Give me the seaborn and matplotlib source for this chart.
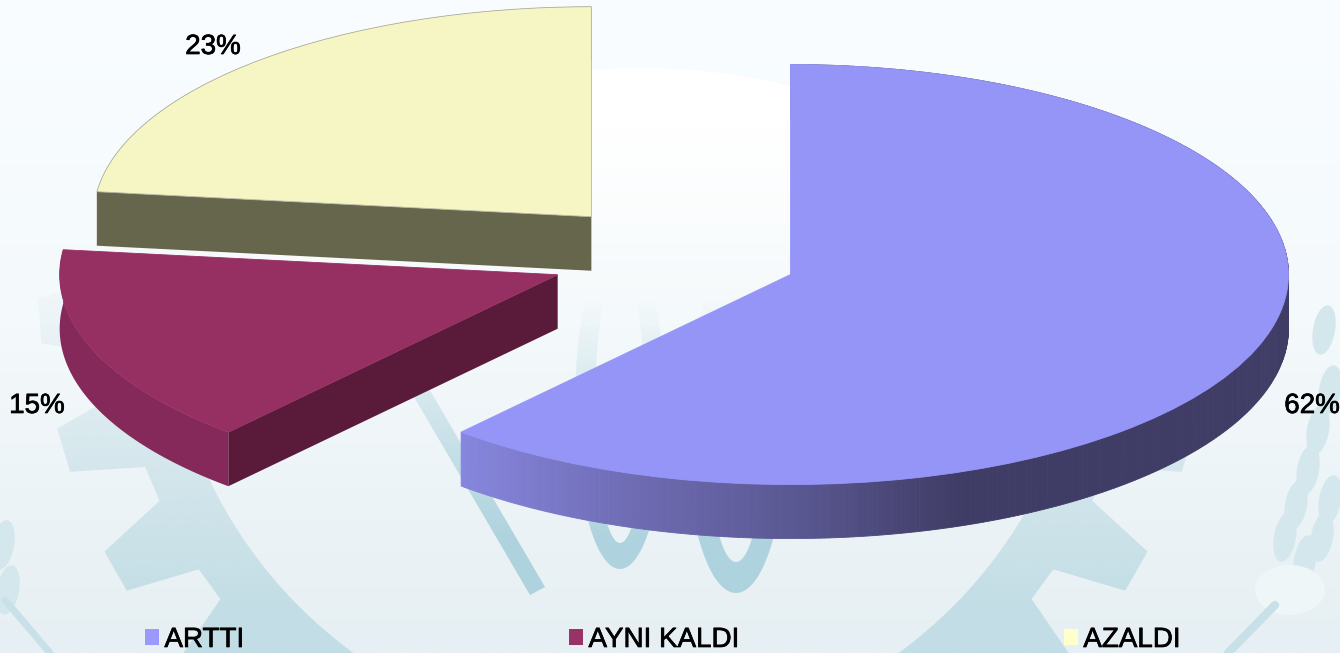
import numpy as np
import seaborn as sns
import matplotlib.pyplot as plt
import matplotlib.patheffects as pe
from matplotlib.patches import Ellipse, Patch, PathPatch
from matplotlib.path import Path

# valores do grafico
categorias = ["ARTTI", "AYNI KALDI", "AZALDI"]
valores = [61.5, 15.4, 23.1]

cores_topo = ["#9595f8", "#962f62", "#f6f6c4"]
cores_legenda = ["#9999ff", "#993366", "#ffffcc"]
cores_arco = [None, "#85295a", "#66664c"]
cores_raio = [None, "#5a1b3a", "#66664c"]

sns.set_theme(style="white")
plt.rcParams["font.family"] = ["Liberation Sans", "DejaVu Sans"]

L, A = 1340, 653
fig = plt.figure(figsize=(L / 100, A / 100), dpi=100)

# fundo em coordenadas de pixel
fundo = fig.add_axes([0, 0, 1, 1])
fundo.set_xlim(0, L)
fundo.set_ylim(A, 0)
fundo.axis("off")

grad = np.array(sns.blend_palette(["#f9fdff", "#f4f9fb", "#e6eff3"], 256))[:, None, :]
fundo.imshow(grad, extent=(0, L, A, 0), aspect="auto", zorder=0)


def preenche(path, cor, y0, y1, z=1):
    # preenchimento que some para cima, como a marca d'agua
    ys = np.linspace(0, A, 256)
    img = np.ones((256, 1, 4))
    img[:, :, :3] = sns.color_palette([cor])[0]
    img[:, 0, 3] = np.clip((ys - y0) / (y1 - y0), 0, 1)
    im = fundo.imshow(img, extent=(0, L, A, 0), aspect="auto", zorder=z)
    im.set_clip_path(PathPatch(path, transform=fundo.transData))


def elipse(cx, cy, rx, ry, n=120):
    t = np.linspace(0, 2 * np.pi, n)
    return np.c_[cx + rx * np.cos(t), cy + ry * np.sin(t)]


# engrenagem da marca d'agua
cx, cy = 626, 280
r_in, r_raiz, r_dente = 462, 516, 588
meia = []
ang = 29.7 - 12.86 * 5
while ang < 100:
    for da, r in [(-2.2, r_dente), (2.2, r_dente), (4.4, r_raiz), (8.5, r_raiz)]:
        meia.append((ang + da, r))
    ang += 12.86
meia = np.array(meia)
dir_x = cx + meia[:, 1] * np.cos(np.radians(meia[:, 0]))
dir_y = cy + meia[:, 1] * np.sin(np.radians(meia[:, 0]))
contorno = np.r_[np.c_[dir_x, dir_y], np.c_[2 * cx - dir_x, dir_y][::-1]]
engrenagem = Path.make_compound_path(
    Path(contorno, closed=True),
    Path(elipse(cx, cy, r_in, r_in, 240)[::-1], closed=True),
)
preenche(engrenagem, "#c2dde5", 260, 620)

# brilho branco no centro
ys = np.linspace(0, A, 256)
img = np.ones((256, 1, 4))
img[:, 0, 3] = np.clip((320 - ys) / 190, 0, 1)
im = fundo.imshow(img, extent=(0, L, A, 0), aspect="auto", zorder=1.5)
im.set_clip_path(PathPatch(Path(elipse(640, 420, 480, 352, 200), closed=True), transform=fundo.transData))

# numero 100 atras da pizza
traco = np.array([(362, 308), (377, 300), (545, 587), (530, 595), (362, 308)])
digitos = Path.make_compound_path(
    Path(traco, closed=True),
    Path(elipse(620, 405, 45, 164), closed=True),
    Path(elipse(620, 405, 25, 138)[::-1], closed=True),
    Path(elipse(736, 430, 50, 163), closed=True),
    Path(elipse(736, 430, 28, 132)[::-1], closed=True),
)
preenche(digitos, "#aed3de", 300, 540, z=2)

# espigas nos cantos
graos = [(1324, 330), (1330, 390), (1318, 430), (1308, 470), (1296, 505), (1285, 537),
         (1330, 500), (1322, 537), (1305, 560), (3, 545), (8, 590)]
for gx, gy in graos:
    fundo.add_patch(Ellipse((gx, gy), 22, 50, angle=10, color="#d3e7ed", zorder=3, lw=0))
fundo.add_patch(Ellipse((1290, 590), 70, 50, color="#eef6f8", zorder=3, lw=0))
fundo.plot([1275, 1228], [605, 653], color="#c8e1e8", lw=6, zorder=3)
fundo.plot([5, 50], [600, 653], color="#c8e1e8", lw=5, zorder=3)

# pizza
ax = fig.add_axes([0, 0, 1, 1])
ax.patch.set_alpha(0)
paleta = sns.color_palette(cores_topo)
fatias, _ = ax.pie(valores, explode=[0.25, 0.25, 0.25], colors=paleta, startangle=90,
                   counterclock=False, radius=1)
RX, RY = 498, 210
CX, CY = 674, 256
ax.set_aspect("auto")
ax.set_xlim(-CX / RX, (L - CX) / RX)
ax.set_ylim((CY - A) / RY, CY / RY)
ax.axis("off")

prof = 54 / RY
# gradiente da parede da fatia maior
tons = sns.blend_palette(["#8686de", "#6f6cb4", "#5a5892", "#3f3c66", "#3f3c66", "#3f3c66"], 400)

for i, f in enumerate(fatias):
    z = 2 + 2 * (len(fatias) - 1 - i) if i else 10
    f.set_zorder(z + 1)
    f.set_edgecolor("#b4b4a4" if i == 2 else cores_topo[i])
    f.set_linewidth(0.6)
    x0, y0 = f.center
    ts = np.radians(np.linspace(f.theta1, f.theta2, 401))
    if cores_arco[i] is None:
        for a, b in zip(ts[:-1], ts[1:]):
            xa, xb = x0 + np.cos(a), x0 + np.cos(b)
            ya, yb = y0 + np.sin(a), y0 + np.sin(b)
            px = ((xa + CX / RX) * RX - 460) / (1288 - 460)
            c = tons[int(np.clip(px, 0, 1) * 399)]
            ax.fill([xa, xb, xb, xa], [ya, yb, yb - prof, ya - prof], color=c, lw=0.6, zorder=z)
    else:
        xs = x0 + np.cos(ts)
        ys_a = y0 + np.sin(ts)
        ax.fill(np.r_[xs, xs[::-1]], np.r_[ys_a, ys_a[::-1] - prof], color=cores_arco[i], lw=0, zorder=z)
        t2 = np.radians(f.theta2)
        xr, yr = x0 + np.cos(t2), y0 + np.sin(t2)
        ax.fill([x0, xr, xr, x0], [y0, yr, yr - prof, y0 - prof], color=cores_raio[i], lw=0, zorder=z + 0.5)

traco_texto = [pe.withStroke(linewidth=0.5, foreground="black")]

# rotulos
pos_rotulos = [(1312, 406), (37, 406), (213, 47)]
for v, (px, py) in zip(valores, pos_rotulos):
    fig.text(px / L, 1 - py / A, f"{round(v)}%", fontsize=20, color="black", ha="center", va="center",
             path_effects=traco_texto)

# legenda
alcas = [Patch(facecolor=c, edgecolor="none") for c in cores_legenda]
leg = fig.legend(alcas, categorias, ncol=3, frameon=False, loc="lower left",
                 bbox_to_anchor=(145 / L, 0.0), borderaxespad=0, borderpad=0, fontsize=20,
                 handlelength=0.5, handleheight=0.5, handletextpad=0.2, columnspacing=11.7,
                 labelcolor="black")
for t in leg.get_texts():
    t.set_path_effects(traco_texto)

fig.savefig("out.png", dpi=100)
